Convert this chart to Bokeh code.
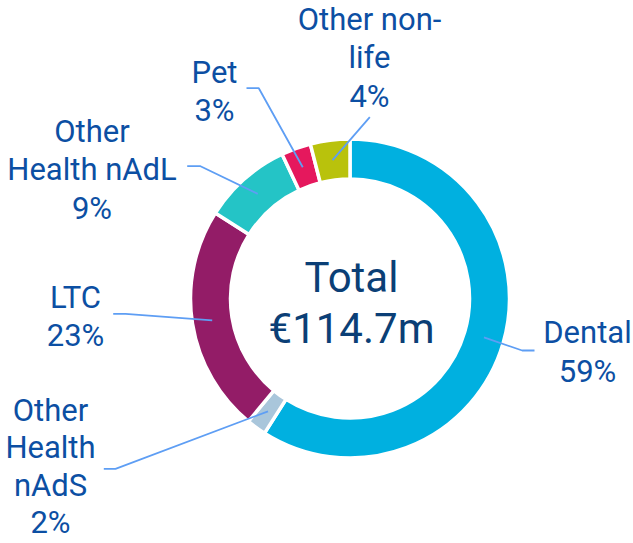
import math
from bokeh.plotting import figure
from bokeh.models import Range1d, ColumnDataSource
from bokeh.core.properties import value
from bokeh.embed import file_html
from bokeh.resources import INLINE

# ---- data ----
categories = ["Dental", "Other Health nAdS", "LTC", "Other Health nAdL", "Pet", "Other non-life"]
shares = [59, 2, 23, 9, 3, 4]
name_lines = [["Dental"], ["Other", "Health", "nAdS"], ["LTC"], ["Other", "Health nAdL"], ["Pet"], ["Other non-", "life"]]
total_lines = ["Total", "€114.7m"]
colors = ["#00B0E0", "#A9C6DB", "#931C67", "#24C4C6", "#E5185D", "#B9C20C"]

# ---- layout (page pixel coordinates) ----
W, H = 633, 543
cx, cy = 349.5, 298.0
r_in, r_out = 119.5, 159.5
r_lead = 139.5
label_anchor = [(587, 340.7), (50, 418.5), (75, 305.0), (91.5, 139.3), (214, 80.0), (369, 27.3)]
label_line_h = [38.3, 37.2, 38.3, 38.3, 38.3, 38.3]
leader_knee = [(521.7, 350.0), (115.0, 468.3), (125.0, 313.3), (200.0, 165.7), (258.3, 87.7), (369.3, 116.7)]
leader_end = [(534.0, 350.0), (103.3, 468.3), (112.7, 313.3), (186.7, 165.7), (246.0, 87.7), (369.3, 116.7)]
label_fs = 31
center_fs = 42
base_fix = 0.27  # renderer places the baseline this many em lower
label_color = "#0C4FA3"
center_color = "#0B3F76"
lead_color = "#5E9EF4"
FONT = "Roboto"


def Y(y):
    return H - y


p = figure(width=W, height=H, x_range=Range1d(0, W), y_range=Range1d(0, H),
           output_backend="svg", toolbar_location=None, min_border=0, title=None)
p.axis.visible = False
p.grid.visible = False
p.outline_line_color = None
p.background_fill_color = "white"
p.border_fill_color = "white"

total = float(sum(shares))
starts, ends, mids = [], [], []
cum = 0.0
for s in shares:
    a0 = cum / total
    cum += s
    a1 = cum / total
    starts.append(math.pi / 2 - 2 * math.pi * a0)
    ends.append(math.pi / 2 - 2 * math.pi * a1)
    mids.append(math.pi / 2 - 2 * math.pi * (a0 + a1) / 2)

src = ColumnDataSource(dict(x=[cx] * len(shares), y=[Y(cy)] * len(shares),
                            start=starts, end=ends, color=colors, cat=categories))
p.annular_wedge(x="x", y="y", inner_radius=r_in, outer_radius=r_out,
                start_angle="start", end_angle="end", direction="clock",
                fill_color="color", line_color="white", line_width=3.5, source=src)

# leader lines
xs, ys = [], []
for m, k, e in zip(mids, leader_knee, leader_end):
    sx = cx + r_lead * math.cos(m)
    sy = Y(cy) + r_lead * math.sin(m)
    xs.append([sx, k[0], e[0]])
    ys.append([sy, Y(k[1]), Y(e[1])])
p.multi_line(xs=xs, ys=ys, line_color=lead_color, line_width=1.8)

# labels
tx, ty, tt = [], [], []
for lines, s, (ax, ay), lh in zip(name_lines, shares, label_anchor, label_line_h):
    all_lines = lines + [f"{s}%"]
    for i, t in enumerate(all_lines):
        tx.append(ax)
        ty.append(Y(ay + i * lh - base_fix * label_fs))
        tt.append(t)
p.text(x=tx, y=ty, text=tt, text_align="center", text_baseline="alphabetic",
       text_font=value(FONT), text_font_size=f"{label_fs}px", text_color=label_color)

# centre total
p.text(x=[351, 351], y=[Y(288.3 - base_fix * center_fs), Y(339.0 - base_fix * center_fs)],
       text=total_lines, text_align="center",
       text_baseline="alphabetic", text_font=value(FONT), text_font_size=f"{center_fs}px",
       text_color=center_color)

open("out.html", "w").write(file_html(p, INLINE))
